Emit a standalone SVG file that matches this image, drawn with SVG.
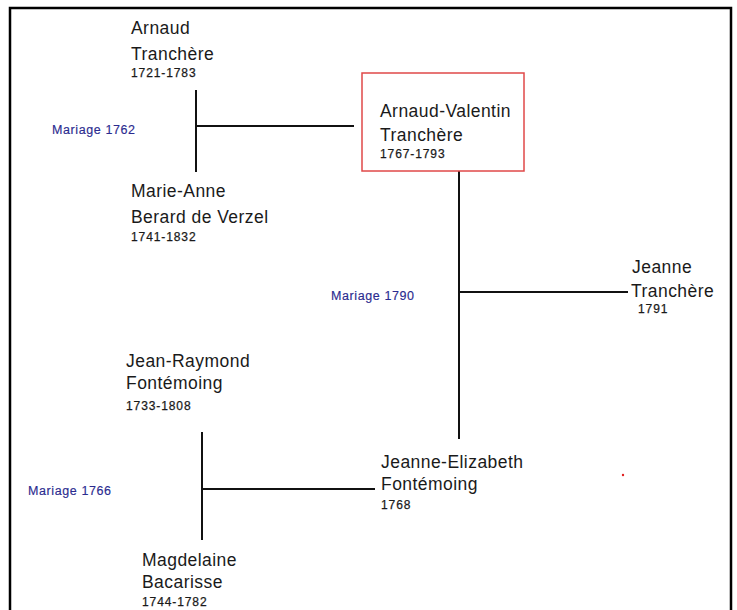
<svg xmlns="http://www.w3.org/2000/svg" width="737" height="610" viewBox="0 0 737 610">
<style>
.name{font-family:"Liberation Sans",Arial,sans-serif;font-size:17.5px;letter-spacing:0.45px;fill:#1a1a1a}
.date{font-family:"Liberation Sans",Arial,sans-serif;font-size:12px;letter-spacing:0.9px;fill:#1a1a1a;stroke:#1a1a1a;stroke-width:0.25px}
.mar{font-family:"Liberation Sans",Arial,sans-serif;font-size:12.5px;letter-spacing:0.6px;fill:#2b2b8f;stroke:#2b2b8f;stroke-width:0.15px}
.ln{stroke:#111;stroke-width:2;fill:none}
</style>
<rect width="737" height="610" fill="#fff"/>
<path d="M10,620 V8 H731 V620" fill="none" stroke="#000" stroke-width="2.5"/>
<g id="connectors">
<line class="ln" x1="196" y1="90" x2="196" y2="172"/>
<line class="ln" x1="196" y1="126" x2="354" y2="126" stroke-width="1.5"/>
<line class="ln" x1="459" y1="171" x2="459" y2="439"/>
<line class="ln" x1="459" y1="292" x2="628" y2="292" stroke-width="1.5"/>
<line class="ln" x1="202" y1="432" x2="202" y2="540"/>
<line class="ln" x1="202" y1="489" x2="375" y2="489"/>
</g>
<g id="m1762"><text class="mar" x="52" y="134">Mariage 1762</text></g>
<g id="m1790"><text class="mar" x="331" y="300">Mariage 1790</text></g>
<g id="m1766"><text class="mar" x="28" y="495">Mariage 1766</text></g>
<g id="arnaud">
<text class="name" x="131" y="34">Arnaud</text>
<text class="name" x="131" y="60">Tranchère</text>
<text class="date" x="131" y="77">1721-1783</text>
</g>
<g id="marie-anne">
<text class="name" x="131" y="197">Marie-Anne</text>
<text class="name" x="131" y="223">Berard de Verzel</text>
<text class="date" x="131" y="241">1741-1832</text>
</g>
<g id="arnaud-valentin">
<rect x="362" y="73" width="162" height="98" fill="none" stroke="#e04848" stroke-width="1.5"/>
<text class="name" x="380" y="117">Arnaud-Valentin</text>
<text class="name" x="380" y="141">Tranchère</text>
<text class="date" x="380" y="158">1767-1793</text>
</g>
<g id="jeanne">
<text class="name" x="632" y="273">Jeanne</text>
<text class="name" x="631" y="297">Tranchère</text>
<text class="date" x="638" y="313">1791</text>
</g>
<g id="jean-raymond">
<text class="name" x="126" y="367">Jean-Raymond</text>
<text class="name" x="126" y="389">Fontémoing</text>
<text class="date" x="126" y="410">1733-1808</text>
</g>
<g id="magdelaine">
<text class="name" x="142" y="566">Magdelaine</text>
<text class="name" x="142" y="588">Bacarisse</text>
<text class="date" x="142" y="606">1744-1782</text>
</g>
<g id="jeanne-elizabeth">
<text class="name" x="381" y="468">Jeanne-Elizabeth</text>
<text class="name" x="381" y="490">Fontémoing</text>
<text class="date" x="381" y="509">1768</text>
</g>
<circle cx="623" cy="475" r="1.2" fill="#e02020"/>
</svg>
